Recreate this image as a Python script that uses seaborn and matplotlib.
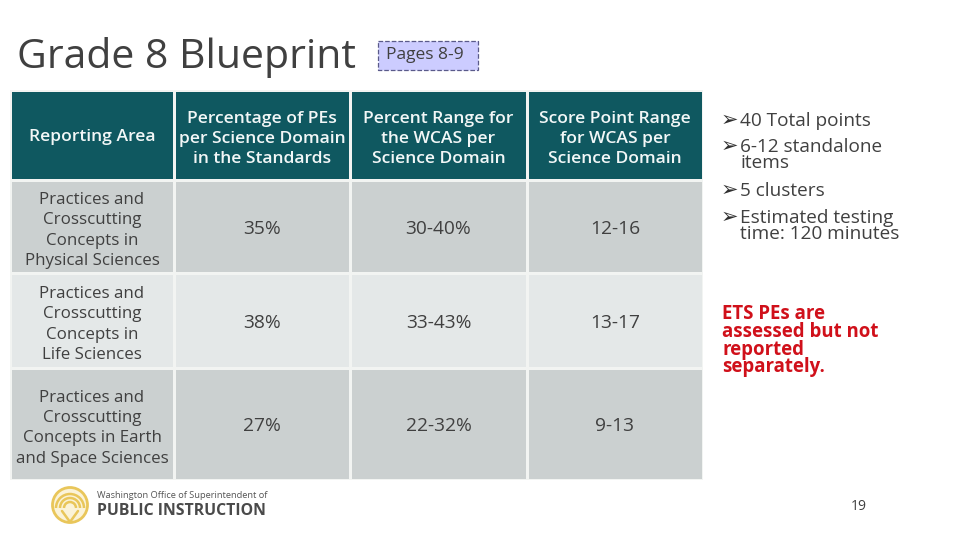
"""Grade 8 blueprint slide: table drawn as one seaborn heatmap per cell."""

import matplotlib
matplotlib.use("Agg")
import matplotlib.pyplot as plt
from matplotlib.colors import ListedColormap
from matplotlib.patches import Arc, Circle, Rectangle
import seaborn as sns

W, H = 960, 540

headers = [
    "Reporting Area",
    "Percentage of PEs\nper Science Domain\nin the Standards",
    "Percent Range for\nthe WCAS per\nScience Domain",
    "Score Point Range\nfor WCAS per\nScience Domain",
]
reporting_areas = [
    "Practices and\nCrosscutting\nConcepts in\nPhysical Sciences",
    "Practices and\nCrosscutting\nConcepts in\nLife Sciences",
    "Practices and\nCrosscutting\nConcepts in Earth\nand Space Sciences",
]
pe_share = ["35%", "38%", "27%"]
percent_range = ["30-40%", "33-43%", "22-32%"]
score_range = ["12-16", "13-17", "9-13"]
row_shades = [1, 2, 1]

bullets = [
    "40 Total points",
    "6-12 standalone\nitems",
    "5 clusters",
    "Estimated testing\ntime: 120 minutes",
]
note = "ETS PEs are\nassessed but not\nreported\nseparately."

col_edges = [10, 174, 350, 527, 703]
row_edges = [90, 180, 273, 368, 480]

TEAL = "#0F5860"
TEXT = "#404040"
table_cmap = ListedColormap([TEAL, "#CBD0D0", "#E4E8E8"])

sns.set_theme(style="white")
plt.rcParams["font.family"] = ["Open Sans", "DejaVu Sans"]


def px_axes(fig, left, top, right, bottom):
    return fig.add_axes([left / W, 1 - bottom / H, (right - left) / W, (bottom - top) / H])


def draw_cell(fig, col, row, shade, label, **text_kw):
    ax = px_axes(fig, col_edges[col], row_edges[row], col_edges[col + 1], row_edges[row + 1])
    kw = {"fontsize": 12.2, "color": TEXT, "linespacing": 1.36, "va": "center_baseline"}
    kw.update(text_kw)
    sns.heatmap([[shade]], annot=[[label]], fmt="", annot_kws=kw, cmap=table_cmap,
                vmin=-0.5, vmax=2.5, cbar=False, xticklabels=False, yticklabels=False,
                linewidths=1, linecolor="#F2F4F2", ax=ax)


fig = plt.figure(figsize=(W / 100, H / 100), dpi=100, facecolor="white")

# 表格
for c, label in enumerate(headers):
    draw_cell(fig, c, 0, 0, label, color="#F2F7F7", fontweight="semibold", fontsize=12.6)
columns = [reporting_areas, pe_share, percent_range, score_range]
for c, values in enumerate(columns):
    for r, val in enumerate(values):
        draw_cell(fig, c, r + 1, row_shades[r], val, fontsize=12.2 if c == 0 else 13.8)

# 幻灯片上的其他文字
page = fig.add_axes([0, 0, 1, 1], zorder=5)
page.set_xlim(0, W)
page.set_ylim(H, 0)
page.axis("off")
page.patch.set_alpha(0)

page.text(17, 58, "Grade 8 Blueprint", fontsize=29.5, color=TEXT, va="center", ha="left")
page.add_patch(Rectangle((378, 41), 100, 29, fc="#CCCCFF", ec="#5A5A8A", lw=0.9, ls="--"))
page.text(425, 55, "Pages 8-9", fontsize=12.5, color=TEXT, ha="center", va="center")

bullet_y = [120, 146, 190, 217]
for y, txt in zip(bullet_y, bullets):
    page.text(721, y, "\u27a2", fontsize=15, color="#303030", va="center", ha="left",
              family=["DejaVu Sans"])
    page.text(740, y - 8, txt, fontsize=13.7, color=TEXT, va="top", ha="left", linespacing=0.85)

page.text(722, 304, note, fontsize=13.4, color="#D0101A", fontweight="bold",
          va="top", ha="left", linespacing=0.85)
page.text(859, 507, "19", fontsize=10, color=TEXT, ha="center", va="center")

# 页脚 logo
GOLD = "#E9C65A"
page.add_patch(Circle((70, 505), 17.5, fc="#FBF3D8", ec=GOLD, lw=2))
for d in (28, 20, 12):
    page.add_patch(Arc((70, 508), d, d, theta1=180, theta2=360, color=GOLD, lw=1.8))
page.plot([62, 70, 78], [511, 522, 511], color=GOLD, lw=1.8)
page.text(97, 496, "Washington Office of Superintendent of", fontsize=6.7, color="#555555",
          va="center", ha="left")
page.text(97, 511, "PUBLIC INSTRUCTION", fontsize=11.4, color="#4A4A4A", fontweight="bold",
          va="center", ha="left")
page.set_xlim(0, W)
page.set_ylim(H, 0)

fig.savefig("out.png", dpi=100)
plt.close(fig)
